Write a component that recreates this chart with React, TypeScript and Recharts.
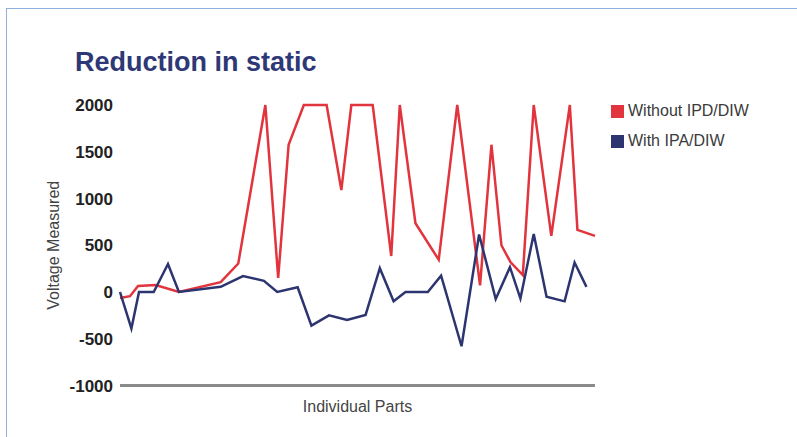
import React from 'react';
import { LineChart, Line, XAxis, YAxis, Label } from 'recharts';

const redX = [0, 2.1, 3.8, 7.5, 12.4, 21.2, 24.9, 30.6, 33.3, 35.5, 38.7, 43.5, 46.6, 48.7, 53.2, 57.1, 58.9, 62.2, 67.1, 71.0, 75.8, 78.2, 80.3, 82.2, 84.8, 87.1, 90.8, 94.7, 96.3, 100];
const redV = [-65, -45, 65, 75, 0, 105, 305, 2000, 150, 1575, 2000, 2000, 1090, 2000, 2000, 385, 2000, 735, 345, 2000, 70, 1575, 500, 320, 180, 2000, 600, 2000, 665, 600];

const blueX = [0, 2.4, 4.0, 7.1, 10.1, 12.4, 21.2, 25.9, 30.3, 33.1, 37.4, 40.3, 44.0, 47.8, 51.7, 54.7, 57.6, 60.1, 64.8, 67.6, 71.9, 75.6, 79.1, 82.1, 84.3, 87.1, 89.8, 93.6, 95.7, 98.2];
const blueV = [0, -390, 0, 0, 300, 0, 55, 170, 120, 0, 50, -360, -250, -300, -245, 255, -100, 0, 0, 175, -580, 615, -75, 265, -70, 620, -50, -100, 315, 55];

const yTicks = [-1000, -500, 0, 500, 1000, 1500, 2000];

const seriesNames = ['Without IPD/DIW', 'With IPA/DIW'];
const RED = '#e2343d';
const NAVY = '#2d3571';
const FONT = '"Liberation Sans", Arial, Helvetica, sans-serif';

const redData = redX.map((x, i) => ({ x, v: redV[i] }));
const blueData = blueX.map((x, i) => ({ x, v: blueV[i] }));

export default function App() {
  return (
    <div style={{ position: 'absolute', left: 0, top: 0, width: 797, height: 437, background: '#fff', fontFamily: FONT }}>
      <div
        style={{
          position: 'absolute',
          left: 6,
          top: 8,
          right: 0,
          bottom: 0,
          borderTop: '1.5px solid #8db0de',
          borderLeft: '1.5px solid #8db0de',
        }}
      />
      <div
        style={{
          position: 'absolute',
          left: 75,
          top: 49,
          fontSize: 27,
          lineHeight: 1,
          fontWeight: 'bold',
          color: '#2f3876',
          whiteSpace: 'nowrap',
        }}
      >
        Reduction in static
      </div>
      <div style={{ position: 'absolute', left: 611, top: 103, fontSize: 16, color: '#3a3a3a' }}>
        {[RED, NAVY].map((c, i) => (
          <div key={i} style={{ display: 'flex', alignItems: 'center', height: 16, marginBottom: 14 }}>
            <div style={{ width: 13, height: 13, background: c, marginRight: 4 }} />
            <span style={{ lineHeight: 1 }}>{seriesNames[i]}</span>
          </div>
        ))}
      </div>
      <div style={{ position: 'absolute', left: 0, top: 0 }}>
        <LineChart width={797} height={437} margin={{ top: 105, right: 202, bottom: 11.5, left: 40 }}>
          <XAxis
            type="number"
            dataKey="x"
            domain={[0, 100]}
            tick={false}
            tickLine={false}
            axisLine={{ stroke: '#8a8a8a', strokeWidth: 3 }}
            height={40}
            allowDuplicatedCategory={false}
          >
            <Label
              value="Individual Parts"
              position="insideBottom"
              offset={13.5}
              style={{ fontSize: 16, fill: '#444', fontFamily: FONT }}
            />
          </XAxis>
          <YAxis
            type="number"
            domain={[-1000, 2000]}
            ticks={yTicks}
            interval={0}
            width={80}
            axisLine={false}
            tickLine={false}
            tickSize={0}
            tickMargin={7}
            tick={{ fontSize: 17, fontWeight: 'bold', fill: '#222', fontFamily: FONT }}
          >
            <Label
              value="Voltage Measured"
              angle={-90}
              position="insideLeft"
              offset={13}
              style={{ fontSize: 16, fill: '#444', fontFamily: FONT, textAnchor: 'middle' }}
            />
          </YAxis>
          <Line
            data={redData}
            dataKey="v"
            stroke={RED}
            strokeWidth={2.5}
            dot={false}
            activeDot={false}
            isAnimationActive={false}
            type="linear"
          />
          <Line
            data={blueData}
            dataKey="v"
            stroke={NAVY}
            strokeWidth={2.5}
            dot={false}
            activeDot={false}
            isAnimationActive={false}
            type="linear"
          />
        </LineChart>
      </div>
    </div>
  );
}
